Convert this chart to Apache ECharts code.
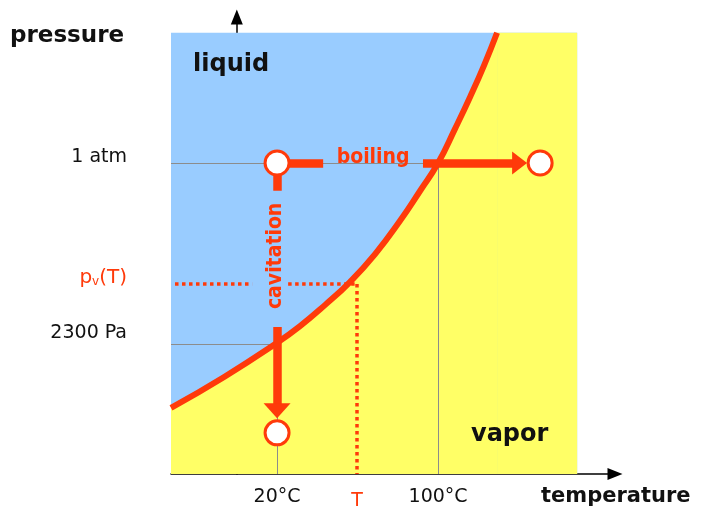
<!DOCTYPE html>
<html><head><meta charset="utf-8">
<script src="https://cdn.jsdelivr.net/npm/echarts@6/dist/echarts.min.js"></script>
<style>html,body{margin:0;padding:0;background:#fff}#c{width:708px;height:520px}</style>
</head><body><div id="c"></div>
<script>
// Vapour-pressure curve (temperature in °C-like units, pressure in arbitrary chart units)
const curveT = [-32.7, -6.3, 20, 31.4, 43.9, 56.3, 68.7, 81.1, 91.1, 100, 108.4, 115.9, 122.9, 129.3];
const curveP = [14.3, 21.0, 28.4, 32.0, 36.6, 41.6, 47.6, 54.8, 61.3, 67.3, 74.7, 81.6, 88.5, 95.5];
// Axis tick labels (label anchor values)
const xTickValues = [20, 59.75, 100];
const xTickLabels = ['20°C', 'T', '100°C'];
const yTickValues = [68.6, 42.4, 30.5];
const yTickLabels = ['1 atm', 'pv(T)', '2300 Pa'];
// Diagram extent
const regionT = [-32.7, 169.1];
const regionP = [0, 95.5];
// States
const startState = [20, 67.3];
const boiledState = [150.7, 67.3];
const cavitatedState = [20, 8.9];
// Arrow shafts and heads [x, y, rotation]
const boilShafts = [[[20, 67.3], [42.9, 67.3]], [[92.5, 67.3], [141, 67.3]]];
const cavShafts = [[[20, 67.3], [20, 61.3]], [[20, 31.8], [20, 14]]];
const arrowHeads = [[140.5, 67.3, -90], [20, 13.7, 180]];
// Guide lines
const guideLines = [
  [[-32.7, 67.3], [100, 67.3]], [[100, 67.3], [100, 0]],
  [[-32.7, 28.1], [20, 28.1]], [[20, 28.1], [20, 0]]
];
const dottedLines = [
  [[-30.7, 41.1], [7.6, 41.1]], [[25.5, 41.1], [59.75, 41.1]], [[59.75, 41.1], [59.75, 0]]
];
// Annotation texts
const notes = [
  { name: 'boiling', value: [67.7, 68.4], rotate: 0 },
  { name: 'cavitation', value: [19.3, 47.2], rotate: 90 }
];

const RED = '#FF3A0A', BLUE = '#99CCFF', YELLOW = '#FFFF66';
const SMOOTH = 0.5;
const FONT = '"DejaVu Sans", sans-serif';
const NARROW = '"DejaVu Sans Condensed", "Liberation Sans Narrow", sans-serif';

function nearestIdx(arr, v) {
  let b = 0; for (let i = 1; i < arr.length; i++) if (Math.abs(arr[i] - v) < Math.abs(arr[b] - v)) b = i; return b;
}
const curveData = curveT.map((t, i) => [t, curveP[i]]);

const chart = echarts.init(document.getElementById('c'));
chart.setOption({
  animation: false,
  grid: { left: 171, right: 93, top: 17, bottom: 46 },
  xAxis: {
    type: 'value', min: -32.7, max: 187.9,
    splitLine: { show: false }, axisTick: { show: false },
    axisLine: { lineStyle: { color: '#000', width: 1.5 }, symbol: ['none', 'triangle'], symbolSize: [12, 15] },
    axisLabel: {
      customValues: xTickValues, margin: 14,
      formatter: v => { const i = nearestIdx(xTickValues, v); return i === 1 ? '{r|' + xTickLabels[i] + '}' : '{k|' + xTickLabels[i] + '}'; },
      rich: {
        k: { fontFamily: FONT, fontSize: 19, color: '#111' },
        r: { fontFamily: FONT, fontSize: 19, color: RED, padding: [4, 0, 0, 0] }
      }
    }
  },
  yAxis: {
    type: 'value', min: 0, max: 98.9,
    splitLine: { show: false }, axisTick: { show: false },
    axisLine: { lineStyle: { color: '#000', width: 1.5 }, symbol: ['none', 'triangle'], symbolSize: [12, 15] },
    axisLabel: {
      customValues: yTickValues, margin: 44,
      formatter: v => { const i = nearestIdx(yTickValues, v); return i === 1 ? '{r|p}{s|v}{r|(T)}' : '{k|' + yTickLabels[i] + '}'; },
      rich: {
        k: { fontFamily: FONT, fontSize: 19, color: '#111' },
        r: { fontFamily: FONT, fontSize: 20, color: RED, lineHeight: 24 },
        s: { fontFamily: FONT, fontSize: 12, color: RED, lineHeight: 12, verticalAlign: 'bottom', padding: [0, 0, 2, 0] }
      }
    }
  },
  graphic: [
    { type: 'text', left: 10, top: 25, style: { text: 'pressure', font: 'bold 23px ' + FONT, fill: '#111' } },
    { type: 'text', left: 541, top: 486, style: { text: 'temperature', font: 'bold 21px ' + FONT, fill: '#111' } },
    { type: 'text', left: 193, top: 53, z: 100, style: { text: 'liquid', font: 'bold 24px ' + FONT, fill: '#111' } },
    { type: 'text', left: 471, top: 423, z: 100, style: { text: 'vapor', font: 'bold 24px ' + FONT, fill: '#111' } }
  ],
  series: [
    { type: 'scatter', data: [], z: 1,
      markArea: { silent: true, data: [
        [{ coord: [regionT[0], regionP[0]], itemStyle: { color: BLUE } }, { coord: [regionT[1], regionP[1]] }],
        [{ coord: [curveT[curveT.length - 1], regionP[0]], itemStyle: { color: YELLOW } }, { coord: [regionT[1], regionP[1]] }]
      ] } },
    { type: 'line', z: 2, symbol: 'none', smooth: SMOOTH, lineStyle: { width: 0, opacity: 0 },
      areaStyle: { color: YELLOW, opacity: 1, origin: 'start' }, data: curveData },
    { type: 'lines', coordinateSystem: 'cartesian2d', z: 3, silent: true,
      lineStyle: { color: '#8c8c8c', width: 1, opacity: 1 },
      data: guideLines.map(c => ({ coords: c })) },
    { type: 'lines', coordinateSystem: 'cartesian2d', z: 4, silent: true,
      lineStyle: { color: RED, width: 3.5, type: [3.5, 3.5], opacity: 1 },
      data: dottedLines.map(c => ({ coords: c })) },
    { type: 'line', z: 5, symbol: 'none', smooth: SMOOTH, lineStyle: { color: RED, width: 6 }, data: curveData },
    { type: 'lines', coordinateSystem: 'cartesian2d', z: 6, silent: true,
      lineStyle: { color: RED, width: 8.5, opacity: 1, cap: 'butt' },
      data: boilShafts.concat(cavShafts).map(c => ({ coords: c })) },
    { type: 'scatter', z: 7, silent: true, symbol: 'triangle',
      itemStyle: { color: RED, opacity: 1 },
      data: arrowHeads.map(a => ({ value: [a[0], a[1]], symbolRotate: a[2], symbolSize: a[2] === 180 ? [27, 15] : [23, 15] })) },
    { type: 'scatter', z: 8, silent: true, symbol: 'circle', symbolSize: 24,
      itemStyle: { color: '#fff', borderColor: RED, borderWidth: 3, opacity: 1 },
      data: [startState, boiledState, cavitatedState] },
    { type: 'scatter', z: 9, silent: true, symbolSize: 0, itemStyle: { opacity: 1 },
      label: { show: true, position: 'inside', formatter: p => p.name, fontFamily: NARROW, fontWeight: 'bold', fontSize: 21, color: RED, opacity: 1 },
      data: notes.map(n => ({ name: n.name, value: n.value, label: { rotate: n.rotate } })) }
  ]
});
</script></body></html>
